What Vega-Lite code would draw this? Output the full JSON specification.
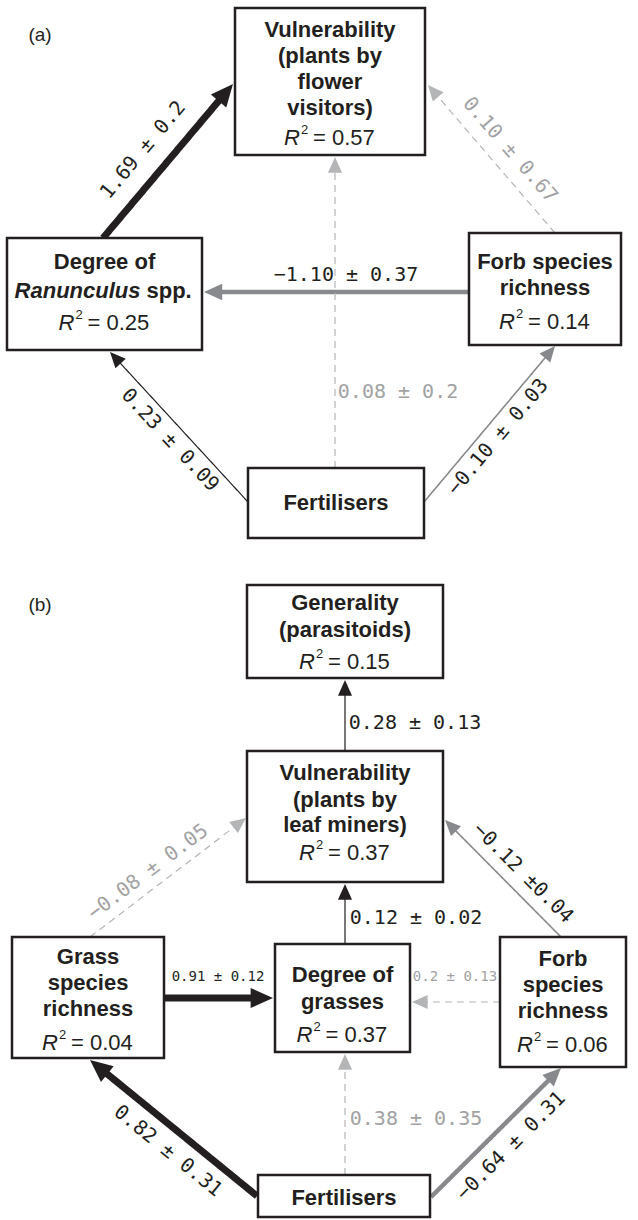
{
  "$schema": "https://vega.github.io/schema/vega-lite/v6.json",
  "width": 638,
  "height": 1220,
  "autosize": {"type": "fit", "contains": "padding"},
  "padding": 0,
  "background": "white",
  "config": {"view": {"stroke": null}},
  "datasets": {
    "nodes": [
      {"id": "vuln_a", "x0": 235, "x1": 425, "y0": 8, "y1": 155},
      {"id": "ran", "x0": 7, "x1": 202, "y0": 238, "y1": 350},
      {"id": "forb_a", "x0": 469, "x1": 621, "y0": 233, "y1": 345},
      {"id": "fert_a", "x0": 248, "x1": 424, "y0": 468, "y1": 538},
      {"id": "gen", "x0": 247, "x1": 443, "y0": 585, "y1": 678},
      {"id": "vuln_b", "x0": 247, "x1": 443, "y0": 751, "y1": 882},
      {"id": "grass", "x0": 12, "x1": 164, "y0": 937, "y1": 1058},
      {"id": "deg", "x0": 275, "x1": 410, "y0": 944, "y1": 1052},
      {"id": "forb_b", "x0": 500, "x1": 626, "y0": 937, "y1": 1067},
      {"id": "fert_b", "x0": 258, "x1": 430, "y0": 1175, "y1": 1217}
    ],
    "edges": [
      {"id": "a1", "coef": "1.69 ± 0.2", "type": "positive", "strength": "strong", "xs": 103, "ys": 238, "xb": 220.1, "yb": 99.3, "xe": 233, "ye": 84, "dir": 40.2, "lx": 143, "ly": 150, "la": -50},
      {"id": "a2", "coef": "−1.10 ± 0.37", "type": "negative", "strength": "moderate", "xs": 469, "ys": 292, "xb": 219, "yb": 292, "xe": 204, "ye": 292, "dir": -90, "lx": 346, "ly": 275, "la": 0},
      {"id": "a3", "coef": "0.23 ± 0.09", "type": "positive", "strength": "weak", "xs": 248, "ys": 502, "xb": 118.1, "yb": 360.8, "xe": 110, "ye": 352, "dir": -42.6, "lx": 170, "ly": 440, "la": 47},
      {"id": "a4", "coef": "−0.10 ± 0.03", "type": "negative", "strength": "weak", "xs": 424, "ys": 502, "xb": 547.3, "yb": 355.2, "xe": 555, "ye": 346, "dir": 40.0, "lx": 498, "ly": 437, "la": -50},
      {"id": "a5", "coef": "0.08 ± 0.2", "type": "ns", "strength": "ns", "xs": 335, "ys": 468, "xb": 335, "yb": 169, "xe": 335, "ye": 157, "dir": 0, "lx": 398, "ly": 392, "la": 0},
      {"id": "a6", "coef": "0.10 ± 0.67", "type": "ns", "strength": "ns", "xs": 555, "ys": 233, "xb": 435.8, "yb": 94.1, "xe": 428, "ye": 85, "dir": -40.6, "lx": 510, "ly": 150, "la": 49},
      {"id": "b1", "coef": "0.28 ± 0.13", "type": "positive", "strength": "weak", "xs": 345, "ys": 751, "xb": 345, "yb": 692, "xe": 345, "ye": 680, "dir": 0, "lx": 415, "ly": 723, "la": 0},
      {"id": "b2", "coef": "0.12 ± 0.02", "type": "positive", "strength": "weak", "xs": 345, "ys": 944, "xb": 345, "yb": 896, "xe": 345, "ye": 884, "dir": 0, "lx": 416, "ly": 918, "la": 0},
      {"id": "b3", "coef": "−0.12 ±0.04", "type": "negative", "strength": "weak", "xs": 561, "ys": 937, "xb": 453.4, "yb": 828.5, "xe": 445, "ye": 820, "dir": -44.8, "lx": 523, "ly": 873, "la": 45},
      {"id": "b4", "coef": "−0.08 ± 0.05", "type": "ns", "strength": "ns", "xs": 90, "ys": 937, "xb": 236.5, "yb": 825.3, "xe": 246, "ye": 818, "dir": 52.7, "lx": 148, "ly": 872, "la": -37},
      {"id": "b5", "coef": "0.91 ± 0.12", "type": "positive", "strength": "strong", "xs": 164, "ys": 998, "xb": 253, "yb": 998, "xe": 273, "ye": 998, "dir": 90, "lx": 218, "ly": 977, "la": 0},
      {"id": "b6", "coef": "0.2 ± 0.13", "type": "ns", "strength": "ns", "xs": 500, "ys": 1002, "xb": 424, "yb": 1002, "xe": 412, "ye": 1002, "dir": -90, "lx": 455, "ly": 977, "la": 0},
      {"id": "b7", "coef": "0.82 ± 0.31", "type": "positive", "strength": "strong", "xs": 257, "ys": 1196, "xb": 105.5, "yb": 1072.6, "xe": 90, "ye": 1060, "dir": -50.8, "lx": 168, "ly": 1151, "la": 39},
      {"id": "b8", "coef": "0.38 ± 0.35", "type": "ns", "strength": "ns", "xs": 345, "ys": 1175, "xb": 345, "yb": 1066, "xe": 345, "ye": 1054, "dir": 0, "lx": 416, "ly": 1119, "la": 0},
      {"id": "b9", "coef": "−0.64 ± 0.31", "type": "negative", "strength": "moderate", "xs": 431, "ys": 1197, "xb": 550.4, "yb": 1078.6, "xe": 561, "ye": 1068, "dir": 45.2, "lx": 511, "ly": 1146, "la": -45}
    ],
    "lines": [
      {"node": "vuln_a", "cx": 330, "y": 30, "t": "Vulnerability"},
      {"node": "vuln_a", "cx": 330, "y": 56, "t": "(plants by"},
      {"node": "vuln_a", "cx": 330, "y": 82, "t": "flower"},
      {"node": "vuln_a", "cx": 330, "y": 108, "t": "visitors)"},
      {"node": "ran", "cx": 104.5, "y": 262, "t": "Degree of"},
      {"node": "forb_a", "cx": 545, "y": 262, "t": "Forb species"},
      {"node": "forb_a", "cx": 545, "y": 288, "t": "richness"},
      {"node": "fert_a", "cx": 336, "y": 503, "t": "Fertilisers"},
      {"node": "gen", "cx": 345, "y": 603, "t": "Generality"},
      {"node": "gen", "cx": 345, "y": 630, "t": "(parasitoids)"},
      {"node": "vuln_b", "cx": 345, "y": 773, "t": "Vulnerability"},
      {"node": "vuln_b", "cx": 345, "y": 800, "t": "(plants by"},
      {"node": "vuln_b", "cx": 345, "y": 825, "t": "leaf miners)"},
      {"node": "grass", "cx": 88, "y": 957, "t": "Grass"},
      {"node": "grass", "cx": 88, "y": 983, "t": "species"},
      {"node": "grass", "cx": 88, "y": 1009, "t": "richness"},
      {"node": "deg", "cx": 342.5, "y": 975, "t": "Degree of"},
      {"node": "deg", "cx": 342.5, "y": 1002, "t": "grasses"},
      {"node": "forb_b", "cx": 563, "y": 959, "t": "Forb"},
      {"node": "forb_b", "cx": 563, "y": 985, "t": "species"},
      {"node": "forb_b", "cx": 563, "y": 1011, "t": "richness"},
      {"node": "fert_b", "cx": 344, "y": 1198, "t": "Fertilisers"}
    ],
    "mixed": [
      {"node": "ran", "cx": 104.5, "y": 291, "g": "Ranunculus", "s": "spp."}
    ],
    "r2": [
      {"node": "vuln_a", "cx": 330, "y": 138, "val": "= 0.57"},
      {"node": "ran", "cx": 104.5, "y": 323, "val": "= 0.25"},
      {"node": "forb_a", "cx": 545, "y": 322, "val": "= 0.14"},
      {"node": "gen", "cx": 345, "y": 662, "val": "= 0.15"},
      {"node": "vuln_b", "cx": 345, "y": 853, "val": "= 0.37"},
      {"node": "grass", "cx": 88, "y": 1043, "val": "= 0.04"},
      {"node": "deg", "cx": 342.5, "y": 1035, "val": "= 0.37"},
      {"node": "forb_b", "cx": 563, "y": 1045, "val": "= 0.06"}
    ],
    "panels": [
      {"label": "(a)", "px": 40, "py": 35},
      {"label": "(b)", "px": 40, "py": 605}
    ]
  },
  "layer": [
    {
      "data": {"name": "edges"},
      "mark": {"type": "rule"},
      "encoding": {
        "x": {"field": "xs", "type": "quantitative", "scale": {"domain": [0, 638], "nice": false, "zero": false}, "axis": null},
        "y": {"field": "ys", "type": "quantitative", "scale": {"domain": [0, 1220], "nice": false, "zero": false, "reverse": true}, "axis": null},
        "x2": {"field": "xb"},
        "y2": {"field": "yb"},
        "color": {"field": "type", "type": "nominal", "scale": {"domain": ["positive", "negative", "ns"], "range": ["#231f20", "#88898c", "#b4b5b7"]}, "legend": null},
        "strokeWidth": {"condition": [{"test": "datum.strength == 'strong'", "value": 7}, {"test": "datum.strength == 'moderate'", "value": 4.5}, {"test": "datum.type == 'negative'", "value": 1.6}], "value": 1.2},
        "strokeDash": {"condition": {"test": "datum.type == 'ns'", "value": [7, 5]}, "value": [1, 0]}
      }
    },
    {
      "data": {"name": "edges"},
      "mark": {"type": "point", "shape": "M0,0L-0.9,2L0.9,2Z", "filled": true, "opacity": 1, "strokeWidth": 0},
      "encoding": {
        "x": {"field": "xe", "type": "quantitative", "scale": {"domain": [0, 638], "nice": false, "zero": false}, "axis": null},
        "y": {"field": "ye", "type": "quantitative", "scale": {"domain": [0, 1220], "nice": false, "zero": false, "reverse": true}, "axis": null},
        "angle": {"field": "dir", "type": "quantitative", "scale": null},
        "size": {"condition": [{"test": "datum.strength == 'strong'", "value": 500}, {"test": "datum.strength == 'moderate'", "value": 330}], "value": 245},
        "color": {"field": "type", "type": "nominal", "scale": {"domain": ["positive", "negative", "ns"], "range": ["#231f20", "#88898c", "#b4b5b7"]}, "legend": null}
      }
    },
    {
      "data": {"name": "nodes"},
      "mark": {"type": "rect", "fill": "white", "stroke": "#231f20", "strokeWidth": 2.5},
      "encoding": {
        "x": {"field": "x0", "type": "quantitative", "scale": {"domain": [0, 638], "nice": false, "zero": false}, "axis": null},
        "x2": {"field": "x1"},
        "y": {"field": "y0", "type": "quantitative", "scale": {"domain": [0, 1220], "nice": false, "zero": false, "reverse": true}, "axis": null},
        "y2": {"field": "y1"}
      }
    },
    {
      "data": {"name": "edges"},
      "mark": {"type": "text", "font": "DejaVu Sans Mono", "fontWeight": "normal", "align": "center", "baseline": "middle"},
      "encoding": {
        "x": {"field": "lx", "type": "quantitative", "scale": {"domain": [0, 638], "nice": false, "zero": false}, "axis": null},
        "y": {"field": "ly", "type": "quantitative", "scale": {"domain": [0, 1220], "nice": false, "zero": false, "reverse": true}, "axis": null},
        "text": {"field": "coef"},
        "angle": {"field": "la", "type": "quantitative", "scale": null},
        "size": {"condition": {"test": "datum.id == 'b5' || datum.id == 'b6'", "value": 14}, "value": 20},
        "color": {"condition": {"test": "datum.type == 'ns'", "value": "#a2a2a4"}, "value": "#231f20"}
      }
    },
    {
      "data": {"name": "lines"},
      "mark": {"type": "text", "font": "Liberation Sans", "fontWeight": "bold", "fontSize": 22, "align": "center", "baseline": "middle", "color": "#231f20"},
      "encoding": {
        "x": {"field": "cx", "type": "quantitative", "scale": {"domain": [0, 638], "nice": false, "zero": false}, "axis": null},
        "y": {"field": "y", "type": "quantitative", "scale": {"domain": [0, 1220], "nice": false, "zero": false, "reverse": true}, "axis": null},
        "text": {"field": "t"}
      }
    },
    {
      "data": {"name": "mixed"},
      "mark": {"type": "text", "font": "Liberation Sans", "fontWeight": "bold", "fontStyle": "italic", "fontSize": 22, "align": "right", "baseline": "middle", "dx": 36, "color": "#231f20"},
      "encoding": {
        "x": {"field": "cx", "type": "quantitative", "scale": {"domain": [0, 638], "nice": false, "zero": false}, "axis": null},
        "y": {"field": "y", "type": "quantitative", "scale": {"domain": [0, 1220], "nice": false, "zero": false, "reverse": true}, "axis": null},
        "text": {"field": "g"}
      }
    },
    {
      "data": {"name": "mixed"},
      "mark": {"type": "text", "font": "Liberation Sans", "fontWeight": "bold", "fontSize": 22, "align": "left", "baseline": "middle", "dx": 42, "color": "#231f20"},
      "encoding": {
        "x": {"field": "cx", "type": "quantitative", "scale": {"domain": [0, 638], "nice": false, "zero": false}, "axis": null},
        "y": {"field": "y", "type": "quantitative", "scale": {"domain": [0, 1220], "nice": false, "zero": false, "reverse": true}, "axis": null},
        "text": {"field": "s"}
      }
    },
    {
      "data": {"name": "r2"},
      "mark": {"type": "text", "font": "Liberation Sans", "fontStyle": "italic", "fontSize": 22, "align": "right", "baseline": "middle", "dx": -30, "color": "#231f20", "text": "R"},
      "encoding": {
        "x": {"field": "cx", "type": "quantitative", "scale": {"domain": [0, 638], "nice": false, "zero": false}, "axis": null},
        "y": {"field": "y", "type": "quantitative", "scale": {"domain": [0, 1220], "nice": false, "zero": false, "reverse": true}, "axis": null}
      }
    },
    {
      "data": {"name": "r2"},
      "mark": {"type": "text", "font": "Liberation Sans", "fontSize": 13, "align": "left", "baseline": "middle", "dx": -29, "dy": -8, "color": "#231f20", "text": "2"},
      "encoding": {
        "x": {"field": "cx", "type": "quantitative", "scale": {"domain": [0, 638], "nice": false, "zero": false}, "axis": null},
        "y": {"field": "y", "type": "quantitative", "scale": {"domain": [0, 1220], "nice": false, "zero": false, "reverse": true}, "axis": null}
      }
    },
    {
      "data": {"name": "r2"},
      "mark": {"type": "text", "font": "Liberation Sans", "fontSize": 22, "align": "left", "baseline": "middle", "dx": -17, "color": "#231f20"},
      "encoding": {
        "x": {"field": "cx", "type": "quantitative", "scale": {"domain": [0, 638], "nice": false, "zero": false}, "axis": null},
        "y": {"field": "y", "type": "quantitative", "scale": {"domain": [0, 1220], "nice": false, "zero": false, "reverse": true}, "axis": null},
        "text": {"field": "val"}
      }
    },
    {
      "data": {"name": "panels"},
      "mark": {"type": "text", "font": "Liberation Sans", "fontSize": 19, "align": "center", "baseline": "middle", "color": "#231f20"},
      "encoding": {
        "x": {"field": "px", "type": "quantitative", "scale": {"domain": [0, 638], "nice": false, "zero": false}, "axis": null},
        "y": {"field": "py", "type": "quantitative", "scale": {"domain": [0, 1220], "nice": false, "zero": false, "reverse": true}, "axis": null},
        "text": {"field": "label"}
      }
    }
  ]
}
